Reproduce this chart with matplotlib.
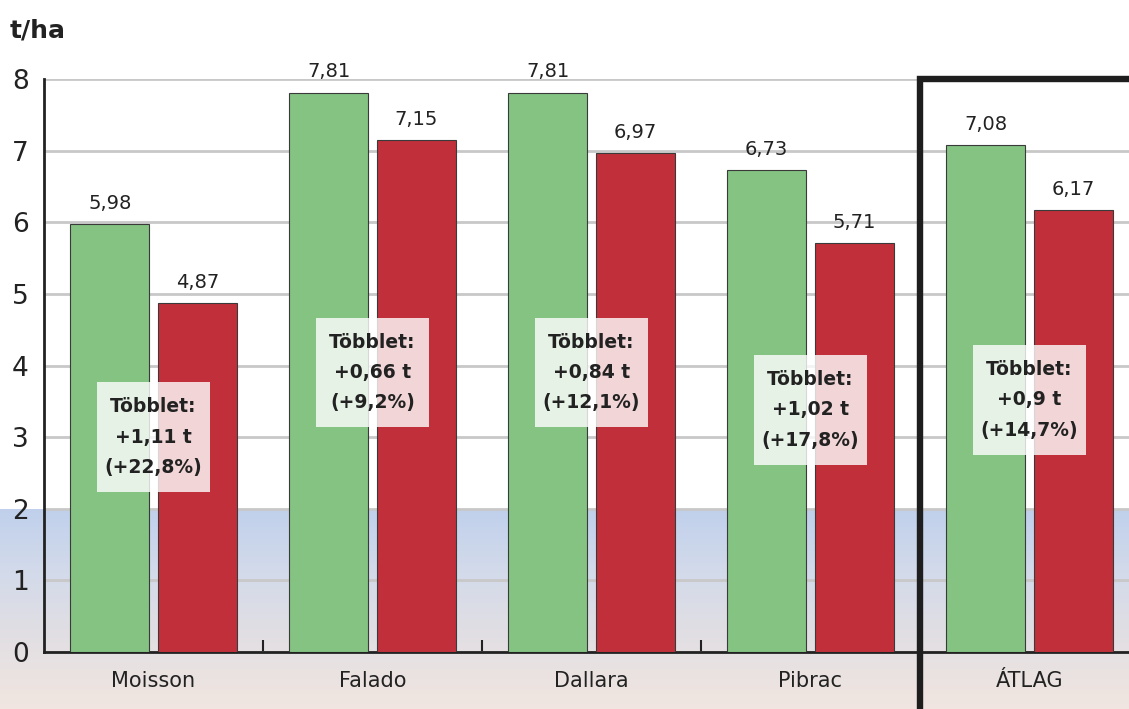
#!/usr/bin/env python3
"""Grouped yield bars (t/ha) with surplus annotations."""

import matplotlib

matplotlib.use("Agg")
import matplotlib.pyplot as plt
import numpy as np
from matplotlib.patches import Rectangle

# --- data -------------------------------------------------------------
categories = ["Moisson", "Falado", "Dallara", "Pibrac", "ÁTLAG"]
treated = [5.98, 7.81, 7.81, 6.73, 7.08]
control = [4.87, 7.15, 6.97, 5.71, 6.17]
surplus_t = ["+1,11 t", "+0,66 t", "+0,84 t", "+1,02 t", "+0,9 t"]
surplus_pct = ["(+22,8%)", "(+9,2%)", "(+12,1%)", "(+17,8%)", "(+14,7%)"]
yticks = [0, 1, 2, 3, 4, 5, 6, 7, 8]

# --- layout / style ---------------------------------------------------
annot_y = [3.0, 3.9, 3.9, 3.38, 3.52]
GREEN = "#84c382"
RED = "#c1303a"
TXT = "#222222"
W, H = 1129, 709

plt.rcParams["font.family"] = ["DejaVu Sans"]


def fmt(v: float) -> str:
    return f"{v:.2f}".replace(".", ",")


fig = plt.figure(figsize=(W / 100, H / 100), dpi=100)
fig.patch.set_facecolor("white")

# sky-like background below the y=2 line
bg = fig.add_axes([0, 0, 1, (H - 509) / H], zorder=0)
stops = np.array([
    [0.00, 192, 208, 236],
    [0.30, 210, 218, 234],
    [0.60, 224, 222, 228],
    [1.00, 241, 230, 224],
])
t = np.linspace(0, 1, 200)
grad = np.stack([np.interp(t, stops[:, 0], stops[:, i]) for i in (1, 2, 3)], axis=1) / 255
img = np.repeat(grad[:, None, :], 8, axis=1)
bg.imshow(img, aspect="auto", extent=(0, 1, 0, 1), origin="upper")
bg.set_axis_off()

ax = fig.add_axes([44 / W, (H - 652) / H, (1139 - 44) / W, (652 - 79) / H], zorder=1)
ax.set_facecolor("none")

x = np.arange(len(categories)) + 0.5
bw = 0.36
off = 0.2
ax.bar(x - off, treated, bw, color=GREEN, edgecolor="#3a3a3a", linewidth=0.8, zorder=3)
ax.bar(x + off, control, bw, color=RED, edgecolor="#3a3a3a", linewidth=0.8, zorder=3)

for xi, v in zip(x - off, treated):
    ax.annotate(fmt(v), (xi, v), xytext=(0, 8), textcoords="offset points",
                ha="center", va="bottom", fontsize=14, color=TXT, zorder=5)
for xi, v in zip(x + off, control):
    ax.annotate(fmt(v), (xi, v), xytext=(0, 8), textcoords="offset points",
                ha="center", va="bottom", fontsize=14, color=TXT, zorder=5)

bw_box, bh_box = 0.52, 1.53
for xi, yc, st, sp in zip(x, annot_y, surplus_t, surplus_pct):
    ax.add_patch(Rectangle((xi - bw_box / 2, yc - bh_box / 2), bw_box, bh_box,
                           facecolor="white", edgecolor="none", alpha=0.8, zorder=4))
    ax.text(xi, yc, f"Többlet:\n{st}\n{sp}", ha="center", va="center",
            fontsize=13.5, fontweight="bold", color=TXT, linespacing=1.75, zorder=5)

ax.set_xlim(0, len(categories))
ax.set_ylim(0, 8)
ax.set_yticks(yticks)
ax.set_yticklabels([str(v) for v in yticks], fontsize=19, color=TXT)
ax.set_xticks(x)
ax.set_xticklabels(categories, fontsize=15, color=TXT)
ax.set_xticks(np.arange(1, len(categories)), minor=True)
ax.tick_params(axis="x", which="major", length=0, pad=14)
ax.tick_params(axis="x", which="minor", direction="in", length=9, width=1.5, color="#222222")
ax.tick_params(axis="y", length=0, pad=11)

ax.grid(axis="y", color="#c8c8c8", linewidth=2, zorder=1)
ax.set_axisbelow(True)
for s in ("top", "right"):
    ax.spines[s].set_visible(False)
ax.spines["left"].set_linewidth(2)
ax.spines["bottom"].set_linewidth(2)
ax.spines["left"].set_color("#222222")
ax.spines["bottom"].set_color("#222222")

# highlight frame around the average group
ax.plot([4, 4, 5.2], [-1.2, 8, 8], color="#1e1e1e", linewidth=4.6,
        solid_joinstyle="miter", clip_on=False, zorder=6)

fig.text(10 / W, 1 - 30 / H, "t/ha", fontsize=18, fontweight="bold",
         color=TXT, ha="left", va="center")

fig.savefig("out.png", dpi=100)
